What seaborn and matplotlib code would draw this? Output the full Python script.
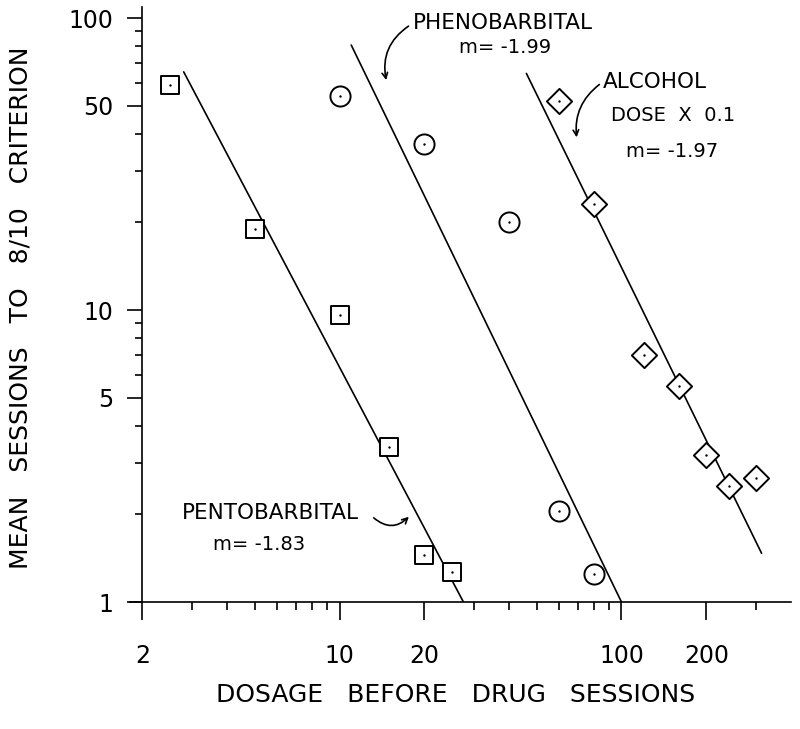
import numpy as np
import pandas as pd
import matplotlib
matplotlib.use("Agg")
import matplotlib.pyplot as plt
import seaborn as sns

# Values (log-log)
pento_dose = [2.5, 5, 10, 15, 20, 25]
pento_sessions = [59, 19, 9.6, 3.4, 1.45, 1.27]
pheno_dose = [10, 20, 40, 60, 80]
pheno_sessions = [54, 37, 20, 2.05, 1.25]
alcohol_dose = [60, 80, 120, 160, 200, 240, 300]  # dose x 0.1
alcohol_sessions = [52, 23, 7.0, 5.5, 3.2, 2.5, 2.65]

# fitted power lines: log10(y) = log_k + m * log10(x)
drugs = ["pento", "pheno", "alcohol"]
fit_slope = [-1.83, -1.99, -1.97]
fit_logk = [2.634, 3.98, 5.086]
fit_xrange = [(2.8, 27.5), (11, 100), (46, 314)]

x_major = [2, 10, 20, 100, 200]
x_minor = [3, 4, 5, 6, 7, 8, 9, 30, 40, 50, 60, 70, 80, 90, 300]
y_major = [1, 5, 10, 50, 100]
y_minor = [2, 3, 4, 6, 7, 8, 9, 20, 30, 40, 60, 70, 80, 90]

df = pd.DataFrame({
    "dose": pento_dose + pheno_dose + alcohol_dose,
    "sessions": pento_sessions + pheno_sessions + alcohol_sessions,
    "drug": ["pento"] * len(pento_dose) + ["pheno"] * len(pheno_dose)
            + ["alcohol"] * len(alcohol_dose),
})

sns.set_style("ticks")
plt.rcParams["font.family"] = ["DejaVu Sans"]
plt.rcParams.update({
    "text.color": "black", "axes.labelcolor": "black",
    "xtick.color": "black", "ytick.color": "black",
    "axes.edgecolor": "black",
})

fig = plt.figure(figsize=(8, 7.29), dpi=100)
ax = fig.add_axes([0.162, 0.1742, 0.827, 0.816])
ax.set_xscale("log")
ax.set_yscale("log")

# fit lines
for name, m, logk, (x0, x1) in zip(drugs, fit_slope, fit_logk, fit_xrange):
    xs = np.array([x0, x1])
    ys = 10 ** (logk + m * np.log10(xs))
    sns.lineplot(x=xs, y=ys, color="black", lw=1.2, ax=ax, estimator=None)

# open symbols with a dot in the middle
sizes = {"pento": 150, "pheno": 210, "alcohol": 165}
shapes = {"pento": "s", "pheno": "o", "alcohol": "D"}
for name in drugs:
    sub = df[df["drug"] == name]
    sns.scatterplot(data=sub, x="dose", y="sessions", marker=shapes[name],
                    s=sizes[name], facecolor="white", edgecolor="black",
                    linewidth=1.4, ax=ax, zorder=3)
    sns.scatterplot(data=sub, x="dose", y="sessions", marker="o", s=3,
                    color="black", linewidth=0, ax=ax, zorder=4)

ax.set_xlim(1.8, 400)
ax.set_ylim(1, 109)
ax.spines["left"].set_position(("data", 2))
ax.spines["top"].set_visible(False)
ax.spines["right"].set_visible(False)
for sp in ax.spines.values():
    sp.set_linewidth(1.2)

ax.set_xticks(x_major)
ax.set_xticks(x_minor, minor=True)
ax.set_xticklabels([str(v) for v in x_major])
ax.set_yticks(y_major)
ax.set_yticks(y_minor, minor=True)
ax.set_yticklabels([str(v) for v in y_major])
ax.xaxis.set_minor_formatter(matplotlib.ticker.NullFormatter())
ax.yaxis.set_minor_formatter(matplotlib.ticker.NullFormatter())

ax.tick_params(axis="x", which="major", length=13, width=1.2, pad=17, labelsize=17)
ax.tick_params(axis="x", which="minor", length=6, width=1.2)
ax.tick_params(axis="y", which="major", length=11, width=1.2, pad=10, labelsize=17)
ax.tick_params(axis="y", which="minor", length=5, width=1.2)

ax.set_xlabel("DOSAGE   BEFORE   DRUG   SESSIONS", fontsize=18, va="center")
ax.xaxis.set_label_coords(0.4925, -0.156)
ax.set_ylabel("MEAN   SESSIONS   TO   8/10   CRITERION", fontsize=18, va="center")
ax.yaxis.set_label_coords(-0.1656, 0.494)

# labels and curved arrows
tkw = dict(fontsize=15.5, color="black")
mkw = dict(fontsize=14, color="black")
ax.text(18.2, 96, "PHENOBARBITAL", ha="left", va="center", **tkw)
ax.text(38.6, 79, "m= -1.99", ha="center", va="center", **mkw)
ax.annotate("", xy=(14.7, 60), xytext=(17.9, 95),
            arrowprops=dict(arrowstyle="->", lw=1.2, color="black",
                            connectionstyle="arc3,rad=0.35"))

ax.text(86, 60.4, "ALCOHOL", ha="left", va="center", **tkw)
ax.text(91.7, 46.2, "DOSE  X  0.1", ha="left", va="center", **mkw)
ax.text(151, 34.8, "m= -1.97", ha="center", va="center", **mkw)
ax.annotate("", xy=(69.5, 38.2), xytext=(85, 60),
            arrowprops=dict(arrowstyle="->", lw=1.2, color="black",
                            connectionstyle="arc3,rad=0.3"))

ax.text(2.76, 2.02, "PENTOBARBITAL", ha="left", va="center", **tkw)
ax.text(5.18, 1.57, "m= -1.83", ha="center", va="center", **mkw)
ax.annotate("", xy=(17.9, 1.99), xytext=(13.0, 1.97),
            arrowprops=dict(arrowstyle="->", lw=1.2, color="black",
                            connectionstyle="arc3,rad=0.5"))

fig.savefig("out.png", dpi=100, facecolor="white")
